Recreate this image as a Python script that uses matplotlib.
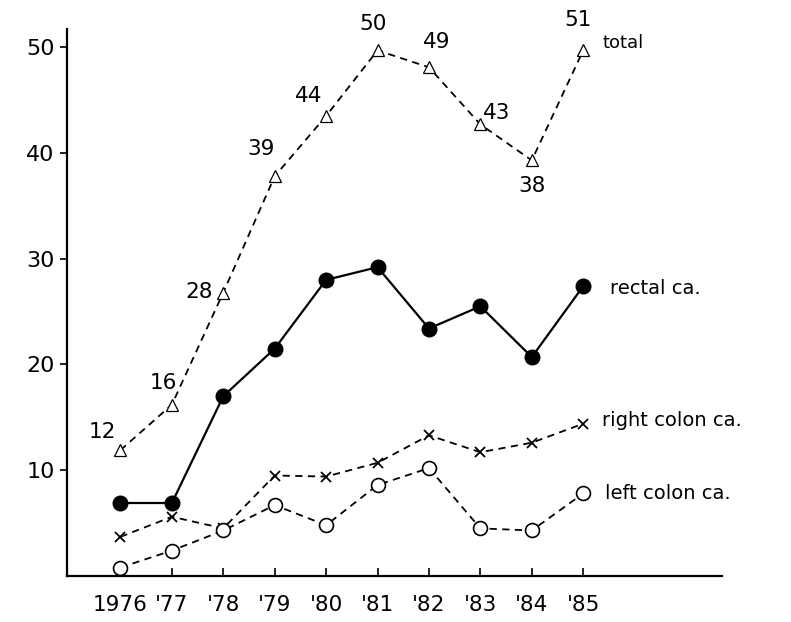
import matplotlib.pyplot as plt

years = [1976, 1977, 1978, 1979, 1980, 1981, 1982, 1983, 1984, 1985]
year_labels = ["1976", "'77", "'78", "'79", "'80", "'81", "'82", "'83", "'84", "'85"]

total = [11.9, 16.2, 26.8, 37.8, 43.5, 49.7, 48.1, 42.7, 39.3, 49.7]
total_text = ["12", "16", "28", "39", "44", "50", "49", "43", "38", "51"]
rectal = [6.9, 6.9, 17.0, 21.5, 28.0, 29.2, 23.4, 25.5, 20.7, 27.4]
right_colon = [3.7, 5.6, 4.5, 9.5, 9.4, 10.7, 13.3, 11.7, 12.6, 14.4]
left_colon = [0.8, 2.4, 4.3, 6.7, 4.8, 8.6, 10.2, 4.5, 4.3, 7.8]

# pixel offsets of the number labels on the total line
total_off = [(-18, 18), (-9, 22), (-24, 1), (-14, 27), (-17, 20),
             (-5, 26), (8, 25), (16, 11), (0, -26), (-5, 30)]

fig = plt.figure(figsize=(7.91, 6.22), dpi=100)
ax = fig.add_axes([0.0847, 0.074, 0.8281, 0.879])

ax.plot(years, total, ls=(0, (4, 3)), lw=1.3, c='k', marker='^', ms=9,
        mfc='white', mec='k', mew=0.9)
ax.plot(years, rectal, ls='-', lw=1.6, c='k', marker='o', ms=10.5,
        mfc='k', mec='k')
ax.plot(years, right_colon, ls=(0, (4, 3)), lw=1.3, c='k', marker='x', ms=7,
        mew=1.3)
ax.plot(years, left_colon, ls=(0, (4, 3)), lw=1.3, c='k', marker='o', ms=10,
        mfc='white', mec='k', mew=1.2)

for x, y, t, off in zip(years, total, total_text, total_off):
    ax.annotate(t, (x, y), xytext=off, textcoords='offset pixels',
                ha='center', va='center', fontsize=15.5)

ax.annotate("total", (years[-1], total[-1]), xytext=(19, 7),
            textcoords='offset pixels', ha='left', va='center', fontsize=13)
ax.annotate("rectal ca.", (years[-1], rectal[-1]), xytext=(27, -2),
            textcoords='offset pixels', ha='left', va='center', fontsize=14)
ax.annotate("right colon ca.", (years[-1], right_colon[-1]), xytext=(19, 3),
            textcoords='offset pixels', ha='left', va='center', fontsize=14)
ax.annotate("left colon ca.", (years[-1], left_colon[-1]), xytext=(22, 0),
            textcoords='offset pixels', ha='left', va='center', fontsize=14)

ax.set_xlim(1974.96, 1987.7)
ax.set_ylim(0, 51.7)
ax.set_xticks(years)
ax.set_xticklabels(year_labels, fontsize=15.5)
ax.set_yticks([10, 20, 30, 40, 50])
ax.set_yticklabels(["10", "20", "30", "40", "50"], fontsize=16)
ax.tick_params(axis='x', direction='in', length=6, width=1.2, pad=14)
ax.tick_params(axis='y', direction='out', length=5, width=1.2, pad=4)
ax.spines['top'].set_visible(False)
ax.spines['right'].set_visible(False)
ax.spines['left'].set_linewidth(1.6)
ax.spines['bottom'].set_linewidth(1.6)

plt.savefig("out.png", dpi=100)
